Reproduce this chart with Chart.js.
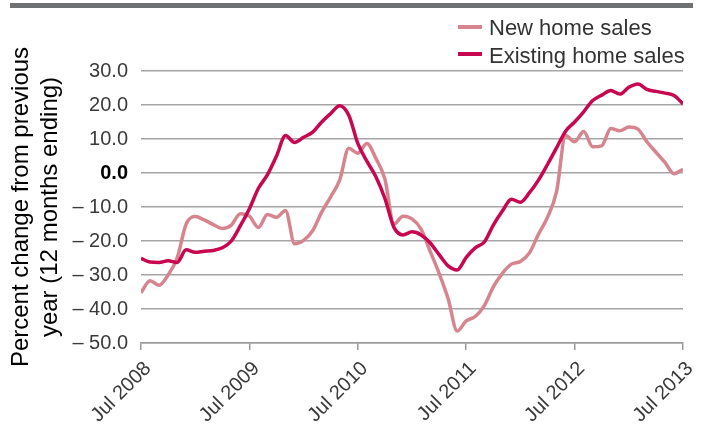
<!DOCTYPE html>
<html><head><meta charset="utf-8">
<script src="https://cdn.jsdelivr.net/npm/chart.js@4"></script>
<style>html,body{margin:0;padding:0;background:#fff}canvas{display:block}</style>
</head><body>
<canvas id="c" width="707" height="430"></canvas>
<script>
// Month index 0 = Jul 2008 ... 60 = Jul 2013
const tickLabels = ['Jul 2008','Jul 2009','Jul 2010','Jul 2011','Jul 2012','Jul 2013'];
const seriesNames = ['New home sales','Existing home sales'];
const newHomeSales = [-35.2,-31.7,-33.0,-30.0,-25.0,-15.0,-12.8,-13.8,-15.2,-16.3,
  -15.3,-12.0,-12.7,-16.0,-12.2,-13.0,-11.0,-20.8,-19.8,-17.0,
  -11.5,-7.0,-2.0,7.3,5.8,8.7,4.3,-1.8,-15.0,-12.7,
  -13.5,-16.5,-23.0,-29.5,-37.0,-46.5,-43.5,-42.2,-39.0,-33.5,
  -29.5,-26.8,-26.0,-23.5,-18.0,-13.0,-5.5,11.0,9.2,12.2,
  7.7,8.0,13.1,12.4,13.5,12.9,9.2,6.1,3.1,-0.2,1.1];
const existingHomeSales = [-25.1,-26.2,-26.3,-25.8,-26.3,-22.6,-23.3,-23.0,-22.8,-22.0,
  -20.0,-15.5,-10.5,-4.5,-0.5,5.0,11.0,9.0,10.5,12.0,
  15.0,17.5,19.8,17.0,8.7,3.5,-1.1,-7.5,-16.0,-18.2,
  -17.3,-18.2,-20.5,-24.0,-27.3,-28.5,-24.8,-22.0,-20.3,-15.3,
  -11.2,-7.7,-8.6,-5.8,-2.1,2.5,7.4,12.3,15.0,18.0,
  21.3,22.9,24.3,23.2,25.2,26.2,24.6,24.0,23.5,22.8,20.3];
const colors = ['#d6858f','#c7074f'];
const FONT = '"Liberation Sans", Arial, sans-serif';

const toXY = arr => arr.map((v,i)=>({x:i,y:v}));

const overlay = {
  id:'overlay',
  afterDraw(chart){
    const ctx = chart.ctx;
    ctx.save();
    ctx.fillStyle = '#6f7072';
    ctx.fillRect(10,3,683,5);
    ctx.font = '22px ' + FONT;
    ctx.textBaseline = 'alphabetic';
    ctx.textAlign = 'left';
    const ys = [35, 63];
    const my = [27, 54];
    seriesNames.forEach((n,i)=>{
      ctx.fillStyle = colors[i];
      ctx.fillRect(458, my[i]-2, 24, 4);
      ctx.fillStyle = '#333';
      ctx.fillText(n, 489, ys[i]);
    });
    ctx.restore();
  }
};

new Chart(document.getElementById('c'), {
  type:'line',
  data:{datasets:[
    {label:seriesNames[1], data:toXY(existingHomeSales), borderColor:colors[1], borderWidth:3.5, pointRadius:0, cubicInterpolationMode:'monotone', order:1},
    {label:seriesNames[0], data:toXY(newHomeSales), borderColor:colors[0], borderWidth:3.5, pointRadius:0, cubicInterpolationMode:'monotone', order:2}
  ]},
  options:{
    responsive:false, animation:false,
    layout:{padding:{left:0,right:22,top:71,bottom:0}},
    plugins:{legend:{display:false}, tooltip:{enabled:false}},
    scales:{
      x:{type:'linear', min:0, max:60,
        afterFit(s){ s.height = 87; },
        border:{display:true, color:'#9a9a9a', width:1.5},
        grid:{display:true, drawOnChartArea:false, drawTicks:true, tickLength:7, color:'#9a9a9a', lineWidth:1.5},
        ticks:{stepSize:12, autoSkip:false, maxRotation:45, minRotation:45, padding:7, labelOffset:7,
          color:'#3a3a3a', font:{family:FONT, size:20},
          callback:(v)=> tickLabels[v/12] }
      },
      y:{min:-50, max:30,
        afterFit(s){ s.width = 141; },
        border:{display:false},
        grid:{color:'#a5a5a5', lineWidth:1.5, drawTicks:false},
        ticks:{stepSize:10, padding:13,
          color:(c)=> c.tick && c.tick.value===0 ? '#000' : '#3a3a3a',
          font:(c)=> ({family:FONT, size:20, weight: (c.tick && c.tick.value===0) ? 'bold' : 'normal'}),
          callback:(v)=> v<0 ? '\u2013 ' + Math.abs(v).toFixed(1) : v.toFixed(1)},
        title:{display:true, text:['Percent change from previous','year (12 months ending)'],
          color:'#000', font:{family:FONT, size:24, lineHeight:1.2}, padding:{top:7,bottom:0}}
      }
    }
  },
  plugins:[overlay]
});
</script>
</body></html>
